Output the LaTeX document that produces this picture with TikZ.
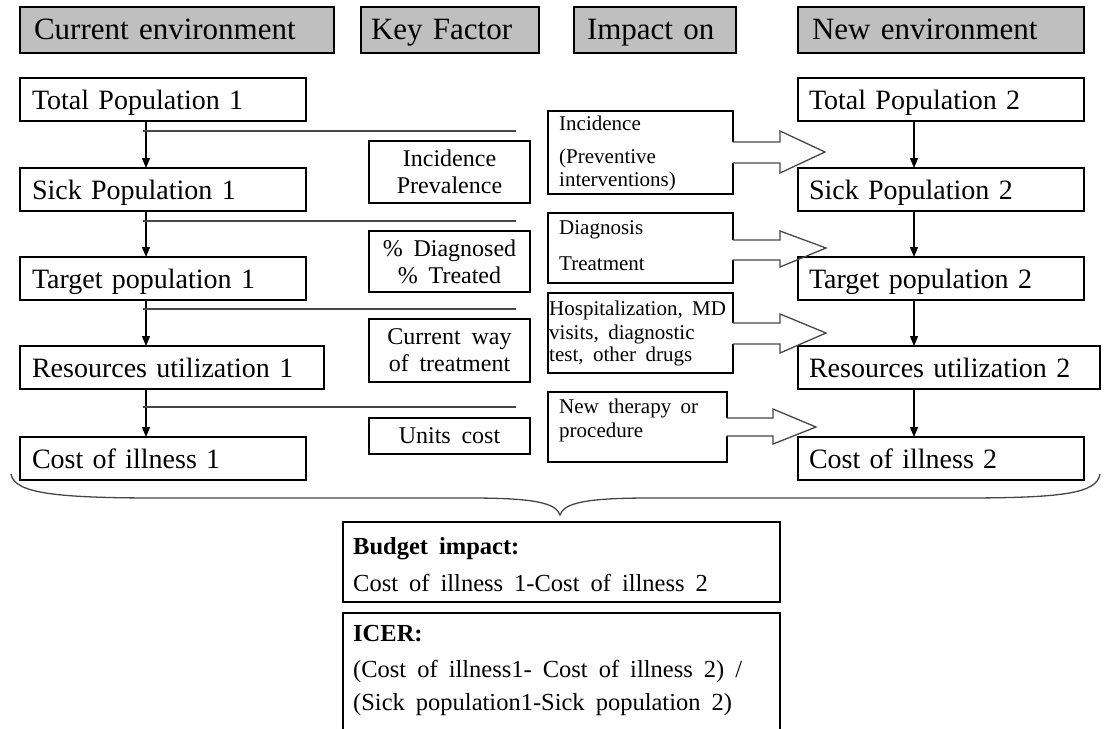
\documentclass[tikz,border=0pt]{standalone}
\usepackage{fontspec}
\setmainfont{Liberation Serif}[WordSpace=1.8]
\usetikzlibrary{arrows.meta,calc}

\definecolor{hdrgray}{RGB}{191,191,191}
\definecolor{linegray}{RGB}{70,70,70}

\begin{document}
\begin{tikzpicture}[x=1pt,y=-1pt,
  frame/.style={draw=black, line width=1.3pt, anchor=north west, inner ysep=0pt, outer sep=0pt},
  hdr/.style={frame, fill=hdrgray, align=left, font=\fontsize{31}{36}\selectfont,
    minimum height=46pt, text height=18pt, text depth=0pt},
  envbox/.style={frame, fill=white, align=left, font=\fontsize{28}{32}\selectfont,
    minimum height=43pt, text height=20pt, text depth=0pt},
  keybox/.style={frame, fill=white, align=center, inner xsep=0pt, minimum width=161pt, font=\fontsize{24}{27}\selectfont},
  impbox/.style={frame, fill=white, inner sep=0pt},
  imptext/.style={anchor=west, inner sep=0pt, font=\fontsize{21}{24}\selectfont},
  sumtext/.style={anchor=west, inner sep=0pt, font=\fontsize{24.5}{28}\selectfont},
  flow/.style={line width=1.2pt, -{Triangle[length=10pt,width=8pt]}},
  splitline/.style={line width=1.2pt, draw=linegray},
  blockarrow/.style={line width=1.3pt, draw=linegray, line join=miter},
  brace/.style={line width=1.3pt, draw=linegray}
]
\useasboundingbox (0,0) rectangle (1105,728);

% column headers
\node[hdr, inner xsep=14pt, text width=286pt] (hCur) at (20,7) {Current environment};
\node[hdr, inner xsep=10pt, text width=158pt] (hKey) at (361,7) {Key Factor};
\node[hdr, inner xsep=13pt, text width=136pt] (hImp) at (574,7) {Impact on};
\node[hdr, inner xsep=14pt, text width=258pt] (hNew) at (798,7) {New environment};

% current environment
\node[envbox, inner xsep=12pt, text width=262pt] (L1) at (20,78)  {Total Population 1};
\node[envbox, inner xsep=12pt, text width=262pt] (L2) at (20,168) {Sick Population 1};
\node[envbox, inner xsep=12pt, text width=262pt] (L3) at (20,257) {Target population 1};
\node[envbox, inner xsep=12pt, text width=280pt] (L4) at (20,346) {Resources utilization 1};
\node[envbox, inner xsep=12pt, text width=262pt] (L5) at (20,437) {Cost of illness 1};

% new environment
\node[envbox, inner xsep=11pt, text width=264pt] (R1) at (798,78)  {Total Population 2};
\node[envbox, inner xsep=11pt, text width=264pt] (R2) at (798,168) {Sick Population 2};
\node[envbox, inner xsep=11pt, text width=264pt] (R3) at (798,257) {Target population 2};
\node[envbox, inner xsep=11pt, text width=280pt] (R4) at (798,346) {Resources utilization 2};
\node[envbox, inner xsep=11pt, text width=264pt] (R5) at (798,437) {Cost of illness 2};

% flow arrows
\foreach \a/\b in {L1/L2,L2/L3,L3/L4,L4/L5}
  \draw[flow] (\a.south -| 146,0) -- (\b.north -| 146,0);
\foreach \a/\b in {R1/R2,R2/R3,R3/R4,R4/R5}
  \draw[flow] (\a.south -| 914,0) -- (\b.north -| 914,0);

% split lines towards the impact column
\foreach \y [count=\i] in {131,221,309,407} {
  \coordinate (sa\i) at (143,\y);
  \coordinate (sb\i) at (516,\y);
  \draw[splitline] (sa\i) -- (sb\i);
}

% key factors
\node[keybox, minimum height=62pt] (K1) at (369,141) {Incidence\\Prevalence};
\node[keybox, minimum height=61pt] (K2) at (369,231) {\% Diagnosed\\\% Treated};
\node[keybox, minimum height=63pt] (K3) at (369,319) {Current way\\of treatment};
\node[keybox, minimum height=36pt] (K4) at (369,418) {Units cost};

% impact boxes
\node[impbox, minimum width=185pt, minimum height=83pt] (I1) at (548,111) {};
\node[impbox, minimum width=185pt, minimum height=70pt] (I2) at (548,213) {};
\node[impbox, minimum width=185pt, minimum height=80pt] (I3) at (548,293) {};
\node[impbox, minimum width=179pt, minimum height=70pt] (I4) at (548,392) {};

\node[imptext] (t11) at (559,123) {Incidence};
\node[imptext] (t12) at (559,158) {(Preventive};
\node[imptext] (t13) at (559,181) {interventions)};
\node[imptext] (t21) at (559,230) {Diagnosis};
\node[imptext] (t22) at (559,264) {Treatment};
\node[imptext] (t31) at (549,310) {Hospitalization, MD};
\node[imptext] (t32) at (549,334) {visits, diagnostic};
\node[imptext] (t33) at (549,356) {test, other drugs};
\node[imptext] (t41) at (559,408) {New therapy or};
\node[imptext] (t42) at (559,432) {procedure};

% block arrows growing out of the impact boxes
\foreach \bx/\up/\lo/\neck/\htop/\hbot/\tipx/\tipy in
  {I1/142/163/780/131/173/825/152,
   I2/240/260/780/231/267/826/248,
   I3/323/344/780/314/353/826/333,
   I4/418/436/773/409/444/816/427} {
  \fill[white] ($(\bx.east |- 0,\up)+(-2,0)$) rectangle ($(\bx.east |- 0,\lo)+(2,0)$);
  \draw[blockarrow] (\bx.east |- 0,\up) -- (\neck,\up) -- (\neck,\htop) -- (\tipx,\tipy)
     -- (\neck,\hbot) -- (\neck,\lo) -- (\bx.east |- 0,\lo);
}

% brace gathering both environments
\draw[brace] (11,474) .. controls (14,494) and (60,498) .. (160,498) -- (470,498)
  .. controls (535,498) and (556,503) .. (560,515)
  .. controls (564,503) and (585,498) .. (650,498) -- (960,498)
  .. controls (1060,498) and (1097,494) .. (1100,474);

% summary boxes
\node[impbox, minimum width=437pt, minimum height=80pt] (B1) at (343,522) {};
\node[impbox, minimum width=437pt, minimum height=140pt] (B2) at (343,613) {};
\node[sumtext, font=\fontsize{24.5}{28}\selectfont\bfseries] (b11) at (353,549) {Budget impact:};
\node[sumtext] (b12) at (353,583) {Cost of illness 1-Cost of illness 2};
\node[sumtext, font=\fontsize{24.5}{28}\selectfont\bfseries] (b21) at (353,634) {ICER:};
\node[sumtext] (b22) at (353,671) {(Cost of illness1- Cost of illness 2) /};
\node[sumtext] (b23) at (353,705) {(Sick population1-Sick population 2)};
\end{tikzpicture}
\end{document}
